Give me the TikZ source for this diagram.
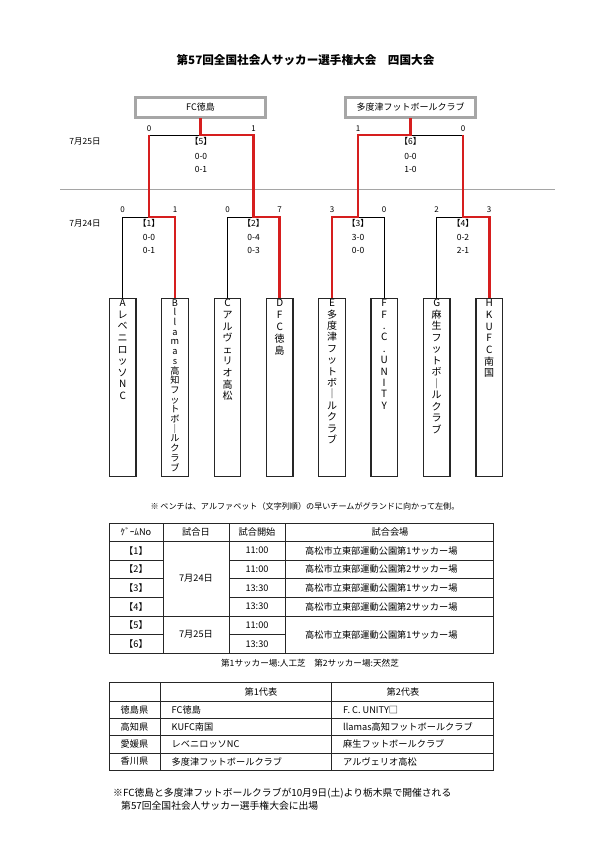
\documentclass[tikz,border=0pt]{standalone}
\usepackage{fontspec}
\setmainfont{Noto Sans CJK JP}
\definecolor{bred}{RGB}{214,30,30}
\definecolor{sepgray}{RGB}{165,165,165}
\tikzset{
  conn/.style={draw=black, line width=1pt},
  win/.style={draw=bred, line width=2.6pt},
  score/.style={font=\fontsize{8}{9}\selectfont, inner sep=0},
  lbl/.style={font=\fontsize{8.5}{9}\selectfont, inner sep=0},
  teambox/.style={draw=black!85, line width=1.3pt, fill=white, minimum width=26.5pt, minimum height=178.4pt, inner sep=0},
  vtext/.style={font=\fontsize{10}{11.6}\selectfont, align=center, inner sep=0, anchor=north},
  finalbox/.style={draw=black!75, double=gray!70, line width=0.6pt, double distance=2.4pt, fill=white, minimum width=130pt, minimum height=20pt, inner sep=0, font=\fontsize{9}{10}\selectfont},
  tline/.style={draw=black!85, line width=0.8pt},
  cell/.style={font=\fontsize{9.2}{10}\selectfont, inner sep=0},
  lcell/.style={font=\fontsize{9.2}{10}\selectfont, inner sep=0, anchor=west},
}
\begin{document}
\begin{tikzpicture}[x=1pt,y=-1pt]
\path[fill=white, use as bounding box] (0,0) rectangle (595,841);

% title
\node[inner sep=0, font=\fontsize{11.6}{13}\selectfont\bfseries] (title) at (305.5,60) {第57回全国社会人サッカー選手権大会　四国大会};

% final boxes
\node[finalbox] (w1) at (200.5,107.5) {FC徳島};
\node[finalbox] (w2) at (410.5,107.5) {多度津フットボールクラブ};

% separator
\draw[sepgray, line width=1pt] (60,189) -- (555,189);

% team boxes
\node[teambox] (tA) at (122.7,387.5) {};
\node[teambox] (tB) at (175,387.5) {};
\node[teambox] (tC) at (227.5,387.5) {};
\node[teambox] (tD) at (279.7,387.5) {};
\node[teambox] (tE) at (332,387.5) {};
\node[teambox] (tF) at (384.2,387.5) {};
\node[teambox] (tG) at (436.7,387.5) {};
\node[teambox] (tH) at (489.2,387.5) {};

\node[vtext] (xA) at ([yshift=-1.5pt]tA.north) {A\\レ\\ベ\\ニ\\ロ\\ッ\\ソ\\N\\C};
\node[vtext, font=\fontsize{9.2}{9.7}\selectfont] (xB) at ([yshift=-1.5pt]tB.north) {B\\l\\l\\a\\m\\a\\s\\高\\知\\フ\\ッ\\ト\\ボ\\｜\\ル\\ク\\ラ\\ブ};
\node[vtext] (xC) at ([yshift=-1.5pt]tC.north) {C\\ア\\ル\\ヴ\\ェ\\リ\\オ\\高\\松};
\node[vtext, font=\fontsize{10}{12}\selectfont] (xD) at ([yshift=-1.5pt]tD.north) {D\\F\\C\\徳\\島};
\node[vtext, font=\fontsize{10}{11.4}\selectfont] (xE) at ([yshift=-1.5pt]tE.north) {E\\多\\度\\津\\フ\\ッ\\ト\\ボ\\｜\\ル\\ク\\ラ\\ブ};
\node[vtext, font=\fontsize{10}{11.4}\selectfont] (xF) at ([yshift=-1.5pt]tF.north) {F\\F\\.\\C\\.\\U\\N\\I\\T\\Y};
\node[vtext, font=\fontsize{10}{11.5}\selectfont] (xG) at ([yshift=-1.5pt]tG.north) {G\\麻\\生\\フ\\ッ\\ト\\ボ\\｜\\ル\\ク\\ラ\\ブ};
\node[vtext, font=\fontsize{10}{11.7}\selectfont] (xH) at ([yshift=-1.5pt]tH.north) {H\\K\\U\\F\\C\\南\\国};

% junction coordinates
\coordinate (j1) at (149,217);
\coordinate (j2) at (253.6,217);
\coordinate (j3) at (358.1,217);
\coordinate (j4) at (463,217);
\coordinate (k1) at (149,135);
\coordinate (k2) at (253.6,135);
\coordinate (k3) at (358.1,135);
\coordinate (k4) at (463,135);

% losing connectors
\draw[conn] (tA.north) |- (j1);
\draw[conn] (tC.north) |- (j2);
\draw[conn] (tF.north) |- (j3);
\draw[conn] (tG.north) |- (j4);
\draw[conn] (k1) -- (w1.south |- k1);
\draw[conn] (k4) -- (w2.south |- k4);

% winning connectors
\draw[win] (tB.north) |- (j1) -- (k1);
\draw[win] (tD.north) |- (j2) -- (k2) -- (w1.south |- k2) -- (w1.south);
\draw[win] (tE.north) |- (j3) -- (k3) -- (w2.south |- k3) -- (w2.south);
\draw[win] (tH.north) |- (j4) -- (k4);

% scores round 1
\node[score] (sA) at (122.7,210) {0};
\node[score] (sB) at (175,210) {1};
\node[score] (sC) at (227.5,210) {0};
\node[score] (sD) at (279.7,210) {7};
\node[score] (sE) at (332,210) {3};
\node[score] (sF) at (384.2,210) {0};
\node[score] (sG) at (436.7,210) {2};
\node[score] (sH) at (489.2,210) {3};
% scores final
\node[score] (s5a) at (149,128.5) {0};
\node[score] (s5b) at (253.6,128.5) {1};
\node[score] (s6a) at (358.1,128.5) {1};
\node[score] (s6b) at (463,128.5) {0};

% dates
\node[lbl] (d25) at (85,141.5) {7月25日};
\node[lbl] (d24) at (85,223.5) {7月24日};

% game labels
\node[lbl] (g5) at (201,141.5) {【5】};
\node[lbl] (g5a) at (201,156) {0-0};
\node[lbl] (g5b) at (201,169.5) {0-1};
\node[lbl] (g6) at (410.5,141.5) {【6】};
\node[lbl] (g6a) at (410.5,156) {0-0};
\node[lbl] (g6b) at (410.5,169.5) {1-0};

\node[lbl] (g1) at (149,223.5) {【1】};
\node[lbl] (g1a) at (149,237.5) {0-0};
\node[lbl] (g1b) at (149,250) {0-1};
\node[lbl] (g2) at (253.6,223.5) {【2】};
\node[lbl] (g2a) at (253.6,237.5) {0-4};
\node[lbl] (g2b) at (253.6,250) {0-3};
\node[lbl] (g3) at (358.1,223.5) {【3】};
\node[lbl] (g3a) at (358.1,237.5) {3-0};
\node[lbl] (g3b) at (358.1,250) {0-0};
\node[lbl] (g4) at (463,223.5) {【4】};
\node[lbl] (g4a) at (463,237.5) {0-2};
\node[lbl] (g4b) at (463,250) {2-1};

% bench note
\node[inner sep=0, font=\fontsize{8.1}{9}\selectfont] (note) at (305,506) {※ ベンチは、アルファベット（文字列順）の早いチームがグランドに向かって左側。};

% ===== table 1 =====
\draw[tline] (109,523) rectangle (493,653.3);
\draw[tline] (109,541.3) -- (493,541.3);
\foreach \y in {560,578.7,597.3} \draw[tline] (109,\y) -- (163.3,\y) (229,\y) -- (493,\y);
\draw[tline] (109,616) -- (493,616);
\draw[tline] (109,634.7) -- (163.3,634.7) (229,634.7) -- (285,634.7);
\foreach \x in {163.3,229,285} \draw[tline] (\x,523) -- (\x,653.3);

\node[cell] (h1) at (136,532) {ｹﾞｰﾑNo};
\node[cell] (h2) at (196,532) {試合日};
\node[cell] (h3) at (257,532) {試合開始};
\node[cell] (h4) at (390,532) {試合会場};

\node[cell] (n1) at (136,550.6) {【1】};
\node[cell] (n2) at (136,569.3) {【2】};
\node[cell] (n3) at (136,588) {【3】};
\node[cell] (n4) at (136,606.7) {【4】};
\node[cell] (n5) at (136,625.3) {【5】};
\node[cell] (n6) at (136,644) {【6】};

\node[cell] (dd1) at (196,578.7) {7月24日};
\node[cell] (dd2) at (196,634.7) {7月25日};

\node[cell] (t1) at (257,550.6) {11:00};
\node[cell] (t2) at (257,569.3) {11:00};
\node[cell] (t3) at (257,588) {13:30};
\node[cell] (t4) at (257,606.7) {13:30};
\node[cell] (t5) at (257,625.3) {11:00};
\node[cell] (t6) at (257,644) {13:30};

\node[lcell] (v1) at (305,550.6) {高松市立東部運動公園第1サッカー場};
\node[lcell] (v2) at (305,569.3) {高松市立東部運動公園第2サッカー場};
\node[lcell] (v3) at (305,588) {高松市立東部運動公園第1サッカー場};
\node[lcell] (v4) at (305,606.7) {高松市立東部運動公園第2サッカー場};
\node[lcell] (v5) at (305,634.7) {高松市立東部運動公園第1サッカー場};

\node[cell, font=\fontsize{8.6}{10}\selectfont] (field) at (310,663) {第1サッカー場:人工芝　第2サッカー場:天然芝};

% ===== table 2 =====
\draw[tline] (109,682) rectangle (493,770.2);
\foreach \y in {701,718.3,735.6,752.9} \draw[tline] (109,\y) -- (493,\y);
\foreach \x in {160,331.7} \draw[tline] (\x,682) -- (\x,770.2);

\node[cell] (r0b) at (261,691.5) {第1代表};
\node[cell] (r0c) at (403,691.5) {第2代表};

\node[cell] (p1) at (134.5,709.7) {徳島県};
\node[cell] (p2) at (134.5,727) {高知県};
\node[cell] (p3) at (134.5,744.3) {愛媛県};
\node[cell] (p4) at (134.5,761.5) {香川県};

\node[lcell] (a1) at (171.5,709.7) {FC徳島};
\node[lcell] (a2) at (171.5,727) {KUFC南国};
\node[lcell] (a3) at (171.5,744.3) {レベニロッソNC};
\node[lcell] (a4) at (171.5,761.5) {多度津フットボールクラブ};

\node[lcell] (b1) at (343,709.7) {F. C. UNITY□};
\node[lcell] (b2) at (343,727) {llamas高知フットボールクラブ};
\node[lcell] (b3) at (343,744.3) {麻生フットボールクラブ};
\node[lcell] (b4) at (343,761.5) {アルヴェリオ高松};

% footer
\node[inner sep=0, anchor=west, font=\fontsize{9.8}{10}\selectfont] (f1) at (113,793) {※FC徳島と多度津フットボールクラブが10月9日(土)より栃木県で開催される};
\node[inner sep=0, anchor=west, font=\fontsize{9.8}{10}\selectfont] (f2) at (121,806) {第57回全国社会人サッカー選手権大会に出場};
\end{tikzpicture}
\end{document}
